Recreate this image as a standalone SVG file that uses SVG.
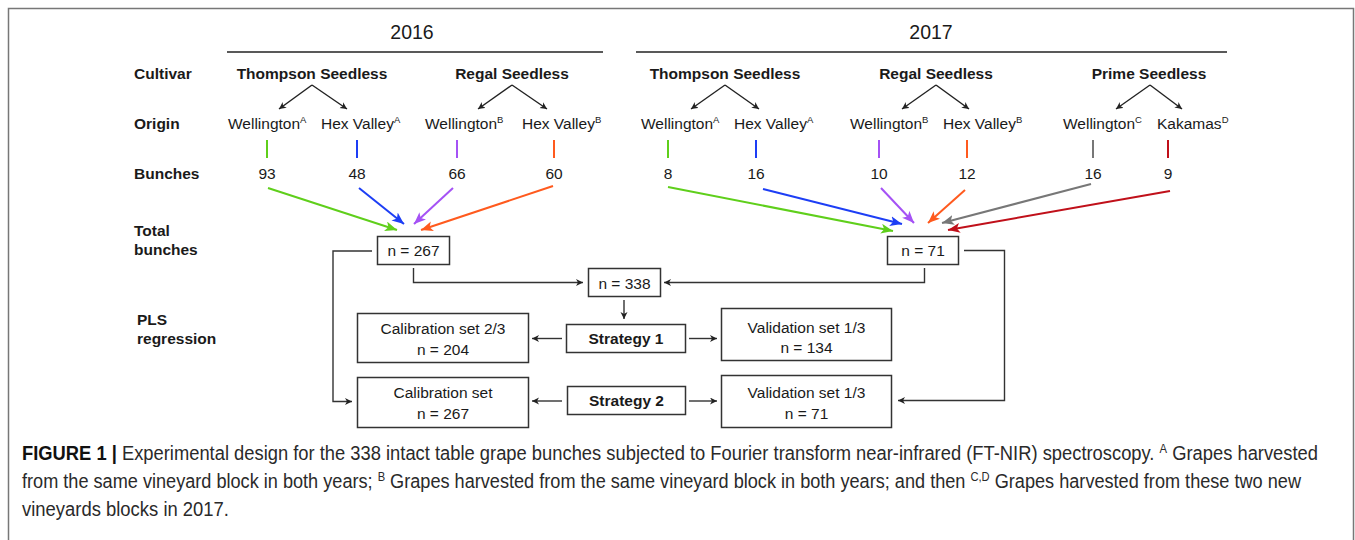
<svg xmlns="http://www.w3.org/2000/svg" width="1355" height="540" viewBox="0 0 1355 540">
<style>
text{font-family:"Liberation Sans",Arial,sans-serif;fill:#1a1a1a}
.t{font-size:15.5px}
.b{font-size:15.5px;font-weight:bold}
.m{text-anchor:middle}
.yr{font-size:19.5px;text-anchor:middle}
.sup{font-size:9.5px}
.box{fill:#fff;stroke:#333;stroke-width:1.5}
.k{fill:none;stroke:#333;stroke-width:1.4}
.cap{font-size:19.5px;fill:#2a2a2a}
</style>
<defs>
<marker id="ak" markerUnits="userSpaceOnUse" markerWidth="8" markerHeight="8" refX="7" refY="3.5" orient="auto"><path d="M0,0 L7,3.5 L0,7 L2,3.5 z" fill="#222"/></marker>
<marker id="ag" markerUnits="userSpaceOnUse" markerWidth="13" markerHeight="11" refX="12" refY="5" orient="auto"><path d="M0,0 L12,5 L0,10 L3,5 z" fill="#5fcf1b"/></marker>
<marker id="ab" markerUnits="userSpaceOnUse" markerWidth="13" markerHeight="11" refX="12" refY="5" orient="auto"><path d="M0,0 L12,5 L0,10 L3,5 z" fill="#1d3ef5"/></marker>
<marker id="ap" markerUnits="userSpaceOnUse" markerWidth="13" markerHeight="11" refX="12" refY="5" orient="auto"><path d="M0,0 L12,5 L0,10 L3,5 z" fill="#a552f5"/></marker>
<marker id="ao" markerUnits="userSpaceOnUse" markerWidth="13" markerHeight="11" refX="12" refY="5" orient="auto"><path d="M0,0 L12,5 L0,10 L3,5 z" fill="#ff5a1e"/></marker>
<marker id="ay" markerUnits="userSpaceOnUse" markerWidth="13" markerHeight="11" refX="12" refY="5" orient="auto"><path d="M0,0 L12,5 L0,10 L3,5 z" fill="#777"/></marker>
<marker id="ar" markerUnits="userSpaceOnUse" markerWidth="13" markerHeight="11" refX="12" refY="5" orient="auto"><path d="M0,0 L12,5 L0,10 L3,5 z" fill="#c0101a"/></marker>
</defs>
<rect x="0" y="0" width="1355" height="540" fill="#fff"/>
<rect x="8.5" y="8.5" width="1345" height="560" fill="none" stroke="#777" stroke-width="1.5"/>

<g id="years">
<text class="yr" x="412" y="39">2016</text>
<line x1="227" y1="52" x2="603" y2="52" stroke="#222" stroke-width="1.6"/>
<text class="yr" x="931" y="39">2017</text>
<line x1="636" y1="52" x2="1227" y2="52" stroke="#222" stroke-width="1.6"/>
</g>

<g id="row-labels">
<text class="b" x="134" y="79">Cultivar</text>
<text class="b" x="134" y="129">Origin</text>
<text class="b" x="134" y="179">Bunches</text>
<text class="b" x="134" y="236">Total</text>
<text class="b" x="134" y="255">bunches</text>
<text class="b" x="137" y="325">PLS</text>
<text class="b" x="137" y="344">regression</text>
</g>

<g id="cultivars">
<text class="b m" x="312" y="79">Thompson Seedless</text>
<text class="b m" x="512" y="79">Regal Seedless</text>
<text class="b m" x="725" y="79">Thompson Seedless</text>
<text class="b m" x="936" y="79">Regal Seedless</text>
<text class="b m" x="1149" y="79">Prime Seedless</text>
</g>

<g id="origins">
<text class="t" x="228" y="129">Wellington<tspan class="sup" dy="-6">A</tspan></text>
<text class="t" x="321" y="129">Hex Valley<tspan class="sup" dy="-6">A</tspan></text>
<text class="t" x="425" y="129">Wellington<tspan class="sup" dy="-6">B</tspan></text>
<text class="t" x="522" y="129">Hex Valley<tspan class="sup" dy="-6">B</tspan></text>
<text class="t" x="641" y="129">Wellington<tspan class="sup" dy="-6">A</tspan></text>
<text class="t" x="734" y="129">Hex Valley<tspan class="sup" dy="-6">A</tspan></text>
<text class="t" x="850" y="129">Wellington<tspan class="sup" dy="-6">B</tspan></text>
<text class="t" x="943" y="129">Hex Valley<tspan class="sup" dy="-6">B</tspan></text>
<text class="t" x="1063" y="129">Wellington<tspan class="sup" dy="-6">C</tspan></text>
<text class="t" x="1157" y="129">Kakamas<tspan class="sup" dy="-6">D</tspan></text>
</g>

<g id="bunches">
<text class="t m" x="267" y="179">93</text>
<text class="t m" x="357" y="179">48</text>
<text class="t m" x="457" y="179">66</text>
<text class="t m" x="554" y="179">60</text>
<text class="t m" x="668" y="179">8</text>
<text class="t m" x="756" y="179">16</text>
<text class="t m" x="879" y="179">10</text>
<text class="t m" x="967" y="179">12</text>
<text class="t m" x="1093" y="179">16</text>
<text class="t m" x="1168" y="179">9</text>
</g>

<g id="node-n267"><rect class="box" x="377.5" y="236.5" width="72" height="28"/><text class="t m" x="413.5" y="256">n = 267</text></g>
<g id="node-n71"><rect class="box" x="887.5" y="236.5" width="71" height="28"/><text class="t m" x="923" y="256">n = 71</text></g>
<g id="node-n338"><rect class="box" x="588.5" y="268.5" width="72" height="28"/><text class="t m" x="624.5" y="289">n = 338</text></g>
<g id="node-cal1"><rect class="box" x="357.5" y="313.5" width="171" height="49"/><text class="t m" x="443" y="334">Calibration set 2/3</text><text class="t m" x="443" y="355">n = 204</text></g>
<g id="node-strat1"><rect class="box" x="566.5" y="324.5" width="119" height="28"/><text class="b m" x="626" y="344">Strategy 1</text></g>
<g id="node-val1"><rect class="box" x="721.5" y="308.5" width="170" height="52"/><text class="t m" x="806.5" y="333">Validation set 1/3</text><text class="t m" x="806.5" y="353">n = 134</text></g>
<g id="node-cal2"><rect class="box" x="357.5" y="377.5" width="171" height="50"/><text class="t m" x="443" y="398">Calibration set</text><text class="t m" x="443" y="419">n = 267</text></g>
<g id="node-strat2"><rect class="box" x="567.5" y="386.5" width="118" height="28"/><text class="b m" x="626.5" y="406">Strategy 2</text></g>
<g id="node-val2"><rect class="box" x="721.5" y="375.5" width="170" height="52"/><text class="t m" x="806.5" y="398">Validation set 1/3</text><text class="t m" x="806.5" y="419">n = 71</text></g>

<g id="connectors">
<g stroke="#222" stroke-width="1.4" fill="none" marker-end="url(#ak)">
<line x1="312" y1="85" x2="279" y2="109"/>
<line x1="312" y1="85" x2="347" y2="109"/>
<line x1="512" y1="85" x2="478" y2="109"/>
<line x1="512" y1="85" x2="547" y2="109"/>
<line x1="725" y1="85" x2="691" y2="109"/>
<line x1="725" y1="85" x2="759" y2="109"/>
<line x1="936" y1="85" x2="902" y2="109"/>
<line x1="936" y1="85" x2="969" y2="109"/>
<line x1="1150" y1="85" x2="1116" y2="109"/>
<line x1="1150" y1="85" x2="1182" y2="109"/>
</g>
<g stroke-width="2">
<line x1="267" y1="140" x2="267" y2="158" stroke="#5fcf1b"/>
<line x1="357" y1="140" x2="357" y2="158" stroke="#1d3ef5"/>
<line x1="457" y1="140" x2="457" y2="158" stroke="#a552f5"/>
<line x1="554" y1="140" x2="554" y2="158" stroke="#ff5a1e"/>
<line x1="668" y1="140" x2="668" y2="158" stroke="#5fcf1b"/>
<line x1="756" y1="140" x2="756" y2="158" stroke="#1d3ef5"/>
<line x1="879" y1="140" x2="879" y2="158" stroke="#a552f5"/>
<line x1="967" y1="140" x2="967" y2="158" stroke="#ff5a1e"/>
<line x1="1093" y1="140" x2="1093" y2="158" stroke="#777"/>
<line x1="1168" y1="140" x2="1168" y2="158" stroke="#c0101a"/>
</g>
<g stroke-width="2" fill="none">
<line x1="268" y1="188" x2="397" y2="230" stroke="#5fcf1b" marker-end="url(#ag)"/>
<line x1="359" y1="188" x2="404" y2="224" stroke="#1d3ef5" marker-end="url(#ab)"/>
<line x1="453" y1="188" x2="414" y2="224" stroke="#a552f5" marker-end="url(#ap)"/>
<line x1="553" y1="186" x2="421" y2="230" stroke="#ff5a1e" marker-end="url(#ao)"/>
<line x1="668" y1="187" x2="893" y2="231" stroke="#5fcf1b" marker-end="url(#ag)"/>
<line x1="763" y1="189" x2="902" y2="224" stroke="#1d3ef5" marker-end="url(#ab)"/>
<line x1="881" y1="188" x2="914" y2="223" stroke="#a552f5" marker-end="url(#ap)"/>
<line x1="965" y1="190" x2="928" y2="223" stroke="#ff5a1e" marker-end="url(#ao)"/>
<line x1="1091" y1="184" x2="942" y2="223" stroke="#777" marker-end="url(#ay)"/>
<line x1="1170" y1="191" x2="948" y2="230" stroke="#c0101a" marker-end="url(#ar)"/>
</g>
<g class="k" marker-end="url(#ak)">
<polyline points="372,251 333,251 333,401.5 352,401.5"/>
<polyline points="413.5,268 413.5,282.5 583,282.5"/>
<polyline points="924.5,268 924.5,282.5 664,282.5"/>
<polyline points="964,250.5 1004.5,250.5 1004.5,400.5 898,400.5"/>
<line x1="624" y1="300" x2="624" y2="319"/>
<line x1="562" y1="338.5" x2="532" y2="338.5"/>
<line x1="689" y1="338.5" x2="717" y2="338.5"/>
<line x1="562" y1="401" x2="532" y2="401"/>
<line x1="689" y1="401" x2="717" y2="401"/>
</g>
</g>

<g id="caption">
<text class="cap" x="22" y="460" textLength="1296" lengthAdjust="spacingAndGlyphs"><tspan font-weight="bold" fill="#111">FIGURE 1 |</tspan> Experimental design for the 338 intact table grape bunches subjected to Fourier transform near-infrared (FT-NIR) spectroscopy. <tspan font-size="12" dy="-7">A</tspan><tspan dy="7"> Grapes harvested</tspan></text>
<text class="cap" x="22" y="488" textLength="1279" lengthAdjust="spacingAndGlyphs">from the same vineyard block in both years; <tspan font-size="12" dy="-7">B</tspan><tspan dy="7"> Grapes harvested from the same vineyard block in both years; and then </tspan><tspan font-size="12" dy="-7">C,D</tspan><tspan dy="7"> Grapes harvested from these two new</tspan></text>
<text class="cap" x="22" y="516" textLength="207" lengthAdjust="spacingAndGlyphs">vineyards blocks in 2017.</text>
</g>
</svg>
